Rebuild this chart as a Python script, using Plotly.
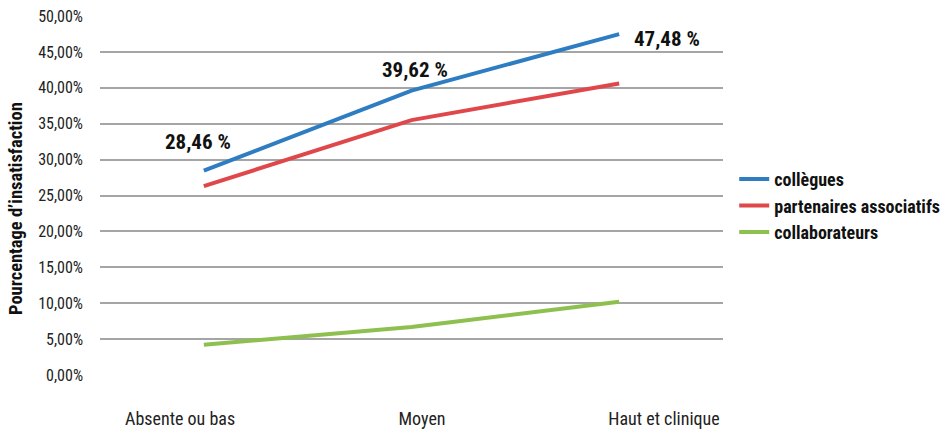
import plotly.graph_objects as go

categories = ["Absente ou bas", "Moyen", "Haut et clinique"]
collegues = [28.46, 39.62, 47.48]
partenaires = [26.3, 35.5, 40.6]
collaborateurs = [4.2, 6.7, 10.2]
y_ticks = [0, 5, 10, 15, 20, 25, 30, 35, 40, 45, 50]

FONT = "Roboto Condensed, Roboto, sans-serif"

series = [
    ("collègues", collegues, "#2e7dc2"),
    ("partenaires associatifs", partenaires, "#e0474a"),
    ("collaborateurs", collaborateurs, "#8dc04f"),
]

fig = go.Figure()
for name, vals, color in series:
    fig.add_trace(go.Scatter(
        x=categories, y=vals, name=name, mode="lines",
        line=dict(color=color, width=4),
    ))

# invisible carrier trace for the category label axis
fig.add_trace(go.Scatter(
    x=categories, y=[None] * len(categories), xaxis="x2",
    showlegend=False, hoverinfo="skip",
))

def fmt(v):
    return f"{v:.2f}".replace(".", ",") + " %"

# value labels for the "collègues" series (pixel offsets from each point)
label_offsets = [(-6, 29), (3, 21), (48, -5)]
for (cat, v), (dx, dy) in zip(zip(categories, collegues), label_offsets):
    fig.add_annotation(
        x=cat, y=v, text=f"<b>{fmt(v)}</b>", showarrow=False,
        xshift=dx, yshift=dy, font=dict(family=FONT, size=21, color="#111"),
    )

fig.add_annotation(
    xref="paper", yref="paper", x=-0.1348, y=0.4624,
    xanchor="center", yanchor="middle",
    text="<b>Pourcentage d’insatisfaction</b>", textangle=-90, showarrow=False,
    font=dict(family=FONT, size=18.5, color="#111"),
)

fig.update_layout(
    width=951, height=433,
    margin=dict(l=100, r=228, t=16, b=58, autoexpand=False),
    paper_bgcolor="white", plot_bgcolor="white",
    font=dict(family=FONT, size=16, color="#222"),
    legend=dict(
        x=1.018, y=0.471, xanchor="left", yanchor="middle",
        font=dict(family=FONT, size=18, color="#111", weight="bold"),
        tracegroupgap=0, itemclick=False,
    ),
    xaxis=dict(
        type="category", range=[-0.5, 2.5], showgrid=False, showline=False,
        showticklabels=False, ticks="", automargin=False,
    ),
    xaxis2=dict(
        type="category", overlaying="x", side="bottom", anchor="y",
        range=[-0.331, 2.244], showgrid=False, showline=False, ticks="",
        tickfont=dict(family=FONT, size=18, color="#222"), ticklabelstandoff=31,
        automargin=False,
    ),
    yaxis=dict(
        range=[0, 50], tickvals=y_ticks,
        ticktext=[f"{t:.2f}".replace(".", ",") + "%" for t in y_ticks],
        showgrid=True, gridcolor="#a5a5a5", gridwidth=2,
        zeroline=False, showline=False, ticks="",
        tickfont=dict(family=FONT, size=16, color="#222"), ticklabelstandoff=16,
        automargin=False,
    ),
)

fig.write_html("out.html")
